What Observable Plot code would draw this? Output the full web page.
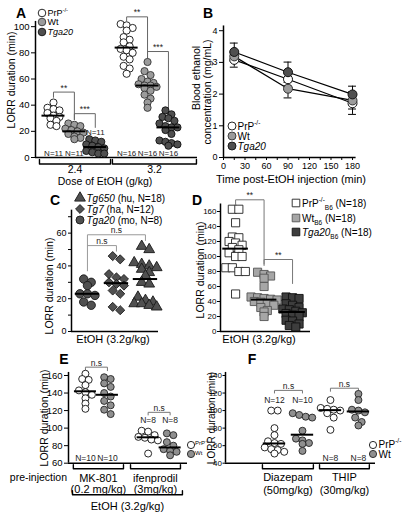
<!DOCTYPE html>
<html><head><meta charset="utf-8">
<script src="https://cdn.jsdelivr.net/npm/d3@7"></script>
<script src="https://cdn.jsdelivr.net/npm/@observablehq/plot@0.6"></script>
<style>
body{margin:0;background:#fff;}
#fig{position:relative;width:404px;height:514px;overflow:hidden;background:#fff;font-family:"Liberation Sans",Arial,Helvetica,sans-serif;color:#000;}
.t{position:absolute;white-space:nowrap;line-height:0.9;}
.t sup,.t sub{font-size:65%;line-height:0;}
.n{font-family:"Liberation Sans Narrow","Arial Narrow","Liberation Sans",Arial,sans-serif;}
</style></head><body><div id="fig"></div>
<script>
// ================= DATA =================
// A: LORR duration (min) by EtOH dose (g/kg) and genotype
const doseA = ["2.4", "3.2"];
const genotypesA = ["PrP-/-", "Wt", "Tga20"];
const lorrA_24_PrP = [42, 38, 37, 36, 34, 32, 31, 30, 28, 25, 24];
const lorrA_24_Wt = [26, 25, 24, 22, 21, 20, 19, 18, 16, 15, 14];
const lorrA_24_Tga20 = [14, 13, 12, 10, 9, 8, 7, 5, 4, 3, 3];
const lorrA_32_PrP = [102, 101, 99, 97, 92, 90, 88, 85, 83, 82, 80, 77, 75, 70, 68, 64];
const lorrA_32_Wt = [73, 66, 63, 60, 58, 57, 56, 55, 55, 54, 53, 51, 48, 45, 42, 38];
const lorrA_32_Tga20 = [36, 33, 31, 30, 28, 26, 24, 23, 23, 21, 18, 13, 12, 11, 10, 9];
const sigA = [
  {from: 0, to: 1, top: 50, left: 46, right: 29, label: "**"},
  {from: 1, to: 2, top: 33.5, left: 29, right: 23, label: "***"},
  {from: 3, to: 4, top: 107.5, left: 104.5, right: 76, label: "**"},
  {from: 4, to: 5, top: 81, left: 76, right: 34, label: "***"}
];
const nLabelYA = [null, null, 19.5, null, null, null];
const yTicksA = [0, 20, 40, 60, 80, 100];

// B: blood ethanol concentration (mg/mL) vs time post-injection (min)
const timeB = [15, 90, 180];
const bacB_PrP = [3.08, 2.47, 1.71];
const semB_PrP = [0.23, 0.2, 0.35];
const bacB_Wt = [3.19, 2.17, 1.80];
const semB_Wt = [0.15, 0.29, 0.27];
const bacB_Tga20 = [3.33, 2.69, 1.99];
const semB_Tga20 = [0.28, 0.32, 0.26];
const xTicksB = [0, 30, 60, 90, 120, 150, 180];
const yTicksB = [0, 1, 2, 3, 4];

// C: LORR duration (min), EtOH 3.2 g/kg, transgenic lines
const linesC = ["Tga20", "Tg7", "Tg650"];
const lorrC_Tga20 = [32, 30, 28, 23, 23, 22, 18, 16];
const lorrC_Tg7 = [46, 44, 35, 33, 32, 30, 29, 28, 25, 23, 15, 13];
const lorrC_Tg650 = [52, 50, 42, 41, 40, 39, 38, 36, 34, 30, 29, 21, 19, 18, 17, 17, 16, 15];
const sigC = [
  {from: 0, to: 2, top: 59, left: 37, right: 55.5, label: "n.s"},
  {from: 0, to: 1, top: 52.4, left: 52.4, right: 49, label: "n.s"}
];
const yTicksC = [0, 10, 20, 30, 40, 50, 60, 70];

// D: LORR duration (min), EtOH 3.2 g/kg, B6 background
const lorrD_PrP = [163, 163, 145, 126, 125, 120, 118, 115, 112, 109, 105, 100, 100, 85, 85, 80, 80, 50];
const lorrD_Wt = [79, 76, 74, 71, 60, 46, 45, 44, 43, 42, 40, 39, 37, 35, 32, 28, 26, 20];
const lorrD_Tga20 = [46, 45, 44, 37, 35, 32, 30, 29, 27, 25, 24, 22, 20, 15, 14, 10, 8, 6];
const sigD = [
  {from: 0, to: 1, top: 175.6, left: 170, right: 90, label: "**"},
  {from: 1, to: 2, top: 96, left: 88, right: 64, label: "**"}
];
const yTicksD = [0, 20, 40, 60, 80, 100, 120, 140, 160];

// E: NMDA-receptor antagonist pre-injection
const drugE = ["MK-801", "ifenprodil"];
const doseE = ["(0.2 mg/kg)", "(3mg/kg)"];
const lorrE_MK_PrP = [162, 156, 155, 149, 143, 141, 138, 134, 128, 122];
const lorrE_MK_Wt = [158, 156, 151, 147, 140, 136, 131, 126, 121, 116];
const lorrE_Ifen_PrP = [97, 96, 92, 90, 89, 87, 86, 71];
const lorrE_Ifen_Wt = [94, 92, 84, 80, 76, 74, 73, 69];
const sigE = [
  {from: 0, to: 1, top: 169.5, left: 165.5, right: 165.5, label: "n.s"},
  {from: 2, to: 3, top: 118, left: 115, right: 115, label: "n.s"}
];
const nLabelYE = [null, null, 108.7, 108.7];
const yTicksE = [60, 80, 100, 120, 140, 160];

// F: GABA-A modulators
const drugF = ["Diazepam", "THIP"];
const doseF = ["(50mg/kg)", "(30mg/kg)"];
const lorrF_Dia_PrP = [100, 100, 80, 72, 65, 63, 62, 58, 56, 55, 53, 51];
const lorrF_Dia_Wt = [97, 95, 93, 92, 77, 68, 66, 63, 62, 54];
const lorrF_THIP_PrP = [112, 103, 102, 101, 100, 97, 92, 78];
const lorrF_THIP_Wt = [119, 112, 101, 100, 98, 92, 87, 83];
const sigF = [
  {from: 0, to: 1, top: 123, left: 120, right: 120, label: "n.s"},
  {from: 2, to: 3, top: 125.5, left: 122, right: 122, label: "n.s"}
];
const nLabelYF = [111.5, 111.5, null, null];
const yTicksF = [40, 60, 80, 100, 120, 140];

// ================= HELPERS =================
const fig = document.getElementById("fig");
const FONT = '"Liberation Sans", Arial, Helvetica, sans-serif';
const FONTN = '"Liberation Sans Narrow", "Arial Narrow", "Liberation Sans", Arial, sans-serif';
const svgNS = "http://www.w3.org/2000/svg";

function txt(html, x, y, o = {}) {
  const d = document.createElement("div");
  d.className = "t" + (o.narrow ? " n" : "");
  d.innerHTML = html;
  d.style.left = x + "px";
  d.style.top = y + "px";
  d.style.fontSize = (o.size || 10.5) + "px";
  if (o.bold) d.style.fontWeight = "bold";
  const tx = o.anchor === "start" ? "0" : o.anchor === "end" ? "-100%" : "-50%";
  d.style.transform = `translate(${tx},-50%)` + (o.rotate ? " rotate(-90deg)" : "");
  fig.appendChild(d);
}
const symTypes = {circle: d3.symbolCircle, triangle: d3.symbolTriangle, diamond2: d3.symbolDiamond2, square: d3.symbolSquare};
function sym(x, y, type, r, fill, stroke) {
  const s = document.createElementNS(svgNS, "svg");
  s.setAttribute("width", 16); s.setAttribute("height", 16);
  s.style.position = "absolute"; s.style.left = (x - 8) + "px"; s.style.top = (y - 8) + "px";
  const p = document.createElementNS(svgNS, "path");
  p.setAttribute("d", d3.symbol(symTypes[type], Math.PI * r * r)());
  p.setAttribute("transform", "translate(8,8)");
  p.setAttribute("fill", fill); p.setAttribute("stroke", stroke); p.setAttribute("stroke-width", 0.9);
  s.appendChild(p);
  fig.appendChild(s);
}
function plotAt(left, top, opts, font, size) {
  const svg = Plot.plot({...opts, style: {background: "transparent", overflow: "visible", fontFamily: font || FONT, fontSize: (size || 9.5) + "px", color: "#000"}});
  svg.style.position = "absolute";
  svg.style.left = left + "px";
  svg.style.top = top + "px";
  fig.appendChild(svg);
  return svg;
}
function geom(g) {
  g.kx = (g.width - g.ml - g.mr) / (g.xd[1] - g.xd[0]);
  g.ky = (g.height - g.mt - g.mb) / (g.yd[1] - g.yd[0]);
  return g;
}
// scatter-column layout: points of similar value share a row, centred on the column
function rowOffsets(values, ky, rowH, spacing, maxPer) {
  const idx = values.map((v, i) => i).sort((a, b) => values[b] - values[a]);
  const out = [];
  let row = [];
  const flush = () => { row.forEach((i, k) => out[i] = (k - (row.length - 1) / 2) * spacing); row = []; };
  for (const i of idx) {
    if (row.length && ((values[row[0]] - values[i]) * ky > rowH || row.length >= maxPer)) flush();
    row.push(i);
  }
  flush();
  return out;
}
function catPanel(g, groups, o) {
  const y0 = g.yd[0];
  const marks = [];
  const sp = [];
  (o.spans || []).forEach((s, i) => {
    const a = y0 - s.off1 / g.ky, b = y0 - s.off2 / g.ky;
    sp.push({id: i, x: s.x1, y: a}, {id: i, x: s.x1, y: b}, {id: i, x: s.x2, y: b}, {id: i, x: s.x2, y: a});
  });
  marks.push(Plot.line(sp, {x: "x", y: "y", z: "id", stroke: "#000", strokeWidth: 1.4}));
  (o.spanText || []).forEach(t => {
    marks.push(Plot.text([t], {x: d => d.x, y: () => y0, text: d => d.text, dy: t.dy, fontSize: t.size, lineAnchor: "middle", fontFamily: t.font || FONT}));
  });
  marks.push(Plot.ruleY([y0], {stroke: "#000", strokeWidth: 1.5}));
  marks.push(Plot.ruleX([g.xd[0]], {y1: () => y0, y2: () => o.yTop, stroke: "#000", strokeWidth: 1.5}));
  const bp = [];
  o.sig.forEach((b, i) => {
    const xa = groups[b.from].pos, xb = groups[b.to].pos;
    bp.push({id: i, x: xa, y: b.left}, {id: i, x: xa, y: b.top}, {id: i, x: xb, y: b.top}, {id: i, x: xb, y: b.right});
  });
  marks.push(Plot.line(bp, {x: "x", y: "y", z: "id", stroke: o.sigColor, strokeWidth: 1}));
  marks.push(Plot.text(o.sig, {x: b => (groups[b.from].pos + groups[b.to].pos) / 2, y: "top", text: "label", dy: -1.5, lineAnchor: "bottom", fontSize: 8.5, fill: "#222", fontFamily: FONTN}));
  groups.forEach(gr => {
    const off = rowOffsets(gr.values, g.ky, o.rowH, o.spacing, o.maxPer);
    const pts = gr.values.map((v, i) => ({x: gr.pos + off[i] / g.kx, y: v}));
    marks.push(Plot.dot(pts, {x: "x", y: "y", r: gr.r, symbol: gr.symbol || "circle", fill: gr.fill, stroke: gr.stroke, strokeWidth: 0.9}));
  });
  marks.push(Plot.ruleY(groups, {x1: d => d.pos - o.medHalf, x2: d => d.pos + o.medHalf, y: d => d3.median(d.values), stroke: "#000", strokeWidth: 2}));
  if (o.nLabels) {
    const nb = groups.filter(gr => gr.nY == null), na = groups.filter(gr => gr.nY != null);
    marks.push(Plot.text(nb, {x: "pos", y: () => y0, text: d => "N=" + d.values.length, dy: -2, lineAnchor: "bottom", fontSize: o.nSize || 8.5, fill: "#222", fontFamily: FONTN}));
    marks.push(Plot.text(na, {x: "pos", y: "nY", text: d => "N=" + d.values.length, lineAnchor: "middle", fontSize: o.nSize || 8.5, fill: "#222", fontFamily: FONTN}));
  }
  plotAt(g.left, g.top, {
    width: g.width, height: g.height,
    marginLeft: g.ml, marginRight: g.mr, marginTop: g.mt, marginBottom: g.mb,
    x: {domain: g.xd, axis: null},
    y: {domain: g.yd, ticks: o.yTicks, tickFormat: o.yFmt || (d => d), tickSize: o.tickSize || 4, tickPadding: o.tickPad ?? 2, label: null},
    marks
  }, o.font || FONTN, o.fontSize || 9.5);
}

const stPrP = {fill: "#ffffff", stroke: "#111"};
const stWt = {fill: "#9b9b9b", stroke: "#333"};
const stTga = {fill: "#4f4f4f", stroke: "#111"};

// ================= PANEL A =================
const gA = geom({left: 0, top: 0, width: 200, height: 192, ml: 35, mr: 3, mt: 0, mb: 35, xd: [-0.86, 6.89], yd: [0, 120]});
const valuesA = [[lorrA_24_PrP, lorrA_24_Wt, lorrA_24_Tga20], [lorrA_32_PrP, lorrA_32_Wt, lorrA_32_Tga20]];
const stylesA = [stPrP, stWt, stTga];
const groupsA = doseA.flatMap((dose, di) => genotypesA.map((gt, gi) => ({
  pos: di * 3.5 + gi, values: valuesA[di][gi], r: 3.6, ...stylesA[gi], nY: nLabelYA[di * 3 + gi]
})));
catPanel(gA, groupsA, {
  sig: sigA, sigColor: "#666", rowH: 5, spacing: 6, maxPer: 4, medHalf: 0.55, yTop: 104, yTicks: yTicksA, nLabels: true, nSize: 8,
  spans: [{x1: -0.67, x2: 2.73, off1: 2, off2: 6.5}, {x1: 2.82, x2: 6.84, off1: 2, off2: 6.5}],
  spanText: [{x: 1.03, text: doseA[0], dy: 12, size: 10.5}, {x: 4.83, text: doseA[1], dy: 12, size: 10.5}]
});
txt("A", 21, 13, {bold: true, size: 14});
sym(42, 12.5, "circle", 3.8, stPrP.fill, stPrP.stroke);
sym(42, 22, "circle", 3.8, stWt.fill, stWt.stroke);
sym(42, 31.5, "circle", 3.8, stTga.fill, stTga.stroke);
txt("PrP<sup>-/-</sup>", 47.5, 12.5, {anchor: "start", size: 9});
txt("Wt", 47.5, 22, {anchor: "start", size: 9});
txt("<i>Tga20</i>", 47.5, 31.5, {anchor: "start", size: 9});
txt("LORR duration (min)", 12, 80, {rotate: true, size: 10.5});
txt("Dose of EtOH (g/kg)", 105, 181.5, {size: 10.5, narrow: true});

// ================= PANEL B =================
const gB = geom({left: 200, top: 0, width: 204, height: 192, ml: 23, mr: 48.4, mt: 0, mb: 35, xd: [0, 185], yd: [0, 4.953]});
const seriesB = [
  {vals: bacB_PrP, err: semB_PrP, ...stPrP},
  {vals: bacB_Wt, err: semB_Wt, ...stWt},
  {vals: bacB_Tga20, err: semB_Tga20, ...stTga}
].map(s => ({...s, pts: timeB.map((t, i) => ({t, v: s.vals[i], e: s.err[i]}))}));
const marksB = [
  Plot.ruleY([0], {stroke: "#000", strokeWidth: 1.5}),
  Plot.ruleX([0], {y1: () => 0, y2: () => 4.15, stroke: "#000", strokeWidth: 1.5}),
  ...seriesB.map(s => Plot.line(s.pts, {x: "t", y: "v", stroke: "#000", strokeWidth: 1.2})),
  ...seriesB.map(s => Plot.ruleX(s.pts, {x: "t", y1: d => d.v - d.e, y2: d => d.v + d.e, stroke: "#000", strokeWidth: 1})),
  ...seriesB.map(s => Plot.ruleY(s.pts, {x1: d => d.t - 5.5, x2: d => d.t + 5.5, y: d => d.v + d.e, stroke: "#000", strokeWidth: 1})),
  ...seriesB.map(s => Plot.ruleY(s.pts, {x1: d => d.t - 5.5, x2: d => d.t + 5.5, y: d => d.v - d.e, stroke: "#000", strokeWidth: 1})),
  ...seriesB.map(s => Plot.dot(s.pts, {x: "t", y: "v", r: 4.5, fill: s.fill, stroke: s.stroke, strokeWidth: 1}))
];
plotAt(gB.left, gB.top, {
  width: gB.width, height: gB.height, marginLeft: gB.ml, marginRight: gB.mr, marginTop: gB.mt, marginBottom: gB.mb,
  x: {domain: gB.xd, ticks: d3.range(0, 181, 15), tickFormat: d => xTicksB.includes(d) ? d : "", tickSize: 3, tickPadding: 2, label: null},
  y: {domain: gB.yd, ticks: yTicksB, tickFormat: d => d, tickSize: 4, tickPadding: 2, label: null},
  marks: marksB
}, FONT, 9);
txt("B", 208, 13, {bold: true, size: 14});
txt("Blood ethanol", 197, 78, {rotate: true, size: 10.5});
txt("concentration (mg/mL)", 207.5, 92, {rotate: true, size: 10.5});
sym(232, 126, "circle", 4, stPrP.fill, stPrP.stroke);
sym(232, 136, "circle", 4, stWt.fill, stWt.stroke);
sym(232, 146, "circle", 4, stTga.fill, stTga.stroke);
txt("PrP<sup>-/-</sup>", 237.5, 126, {anchor: "start", size: 10});
txt("Wt", 237.5, 136, {anchor: "start", size: 10});
txt("<i>Tga20</i>", 237.5, 146, {anchor: "start", size: 10});
txt("Time post-EtOH injection (min)", 291, 180, {size: 11});

// ================= PANEL C =================
const gC = geom({left: 0, top: 190, width: 200, height: 160, ml: 71, mr: 42, mt: 0, mb: 19, xd: [-0.55, 2.45], yd: [0, 86]});
const stC = {fill: "#505050", stroke: "#1a1a1a"};
const valuesC = [lorrC_Tga20, lorrC_Tg7, lorrC_Tg650];
const symbolsC = ["circle", "diamond2", "triangle"];
const radiiC = [4.2, 4.1, 4.0];
const groupsC = linesC.map((l, i) => ({pos: i, values: valuesC[i], symbol: symbolsC[i], r: radiiC[i], ...stC}));
catPanel(gC, groupsC, {
  sig: sigC, sigColor: "#999", rowH: 6, spacing: 7.5, maxPer: 4, medHalf: 0.42, yTop: 74, yTicks: yTicksC, yFmt: d => d % 20 ? "" : d, nLabels: false,
  tickSize: 3, fontSize: 9
});
txt("C", 55, 200, {bold: true, size: 14});
sym(80, 198, "triangle", 4, stC.fill, stC.stroke);
sym(80, 209, "diamond2", 4, stC.fill, stC.stroke);
sym(80, 220, "circle", 4, stC.fill, stC.stroke);
txt("<i>Tg650</i> (hu, N=" + lorrC_Tg650.length + ")", 86.5, 198, {anchor: "start", size: 10, narrow: true});
txt("<i>Tg7</i> (ha, N=" + lorrC_Tg7.length + ")", 86.5, 209, {anchor: "start", size: 10, narrow: true});
txt("<i>Tga20</i> (mo, N=" + lorrC_Tga20.length + ")", 86.5, 220, {anchor: "start", size: 10, narrow: true});
txt("LORR duration (min)", 50, 286, {rotate: true, size: 10.5, narrow: true});
txt("EtOH (3.2g/kg)", 113, 340, {size: 11, narrow: true});

// ================= PANEL D =================
const gD = geom({left: 200, top: 190, width: 204, height: 160, ml: 20, mr: 94, mt: 0, mb: 19, xd: [-0.53, 2.63], yd: [0, 188]});
const stDP = {fill: "#ffffff", stroke: "#222"}, stDW = {fill: "#a6a6a6", stroke: "#555"}, stDT = {fill: "#3d3d3d", stroke: "#111"};
const groupsD = [
  {pos: 0, values: lorrD_PrP, symbol: "square", r: 4.6, ...stDP},
  {pos: 1, values: lorrD_Wt, symbol: "square", r: 4.6, ...stDW},
  {pos: 2, values: lorrD_Tga20, symbol: "square", r: 4.6, ...stDT}
];
catPanel(gD, groupsD, {
  sig: sigD, sigColor: "#777", rowH: 4, spacing: 6.5, maxPer: 5, medHalf: 0.45, yTop: 170, yTicks: yTicksD, nLabels: false,
  tickSize: 3, tickPad: 1, fontSize: 8
});
txt("D", 197, 200, {bold: true, size: 14});
sym(296, 203, "square", 4.3, stDP.fill, stDP.stroke);
sym(296, 218, "square", 4.3, stDW.fill, stDW.stroke);
sym(296, 232, "square", 4.3, stDT.fill, stDT.stroke);
txt("PrP<sup>-/-</sup><sub>B6</sub> (N=" + lorrD_PrP.length + ")", 302, 203, {anchor: "start", size: 10, narrow: true});
txt("Wt<sub>B6</sub> (N=" + lorrD_Wt.length + ")", 302, 218, {anchor: "start", size: 10, narrow: true});
txt("<i>Tga20</i><sub>B6</sub> (N=" + lorrD_Tga20.length + ")", 302, 232, {anchor: "start", size: 10, narrow: true});
txt("LORR duration (min)", 201, 270, {rotate: true, size: 10.5, narrow: true});
txt("EtOH (3.2g/kg)", 259, 340, {size: 11, narrow: true});

// ================= PANEL E =================
const gE = geom({left: 0, top: 355, width: 200, height: 159, ml: 68, mr: 13, mt: 0, mb: 51.3, xd: [-0.77, 4.64], yd: [60, 182.8]});
const stEW = {fill: "#8f8f8f", stroke: "#222"};
const valuesE = [[lorrE_MK_PrP, lorrE_MK_Wt], [lorrE_Ifen_PrP, lorrE_Ifen_Wt]];
const groupsE = drugE.flatMap((dr, di) => [stPrP, stEW].map((st, gi) => ({
  pos: di * 2.85 + gi, values: valuesE[di][gi], r: 3.5, ...st, nY: nLabelYE[di * 2 + gi]
})));
catPanel(gE, groupsE, {
  sig: sigE, sigColor: "#777", rowH: 5, spacing: 6.5, maxPer: 4, medHalf: 0.5, yTop: 163.5, yTicks: yTicksE, nLabels: true,
  spans: [{x1: -0.55, x2: 1.73, off1: 1.5, off2: 5.5}, {x1: 2.05, x2: 4.32, off1: 1.5, off2: 5.5}, {x1: -0.59, x2: 4.41, off1: 27.5, off2: 31.5}],
  spanText: [
    {x: 0.59, text: drugE[0], dy: 15, size: 11, font: FONTN}, {x: 0.59, text: doseE[0], dy: 26, size: 11, font: FONTN},
    {x: 3.18, text: drugE[1], dy: 15, size: 11, font: FONTN}, {x: 3.18, text: doseE[1], dy: 26, size: 11, font: FONTN},
    {x: 1.91, text: "EtOH (3.2g/kg)", dy: 43.5, size: 11, font: FONTN}
  ]
});
txt("E", 64, 359, {bold: true, size: 14});
txt("LORR duration (min)", 45, 418, {rotate: true, size: 10.5, narrow: true});
txt("pre-injection", 67, 478, {anchor: "end", size: 10.5});
sym(191, 445, "circle", 3.6, stPrP.fill, stPrP.stroke);
sym(191, 454, "circle", 3.6, stEW.fill, stEW.stroke);
txt("PrP<sup>-/-</sup>", 195, 444, {anchor: "start", size: 6, narrow: true});
txt("Wt", 195, 454, {anchor: "start", size: 6, narrow: true});

// ================= PANEL F =================
const gF = geom({left: 200, top: 355, width: 204, height: 159, ml: 25, mr: 29, mt: 0, mb: 51.3, xd: [-1.75, 3.61], yd: [40, 162.8]});
const valuesF = [[lorrF_Dia_PrP, lorrF_Dia_Wt], [lorrF_THIP_PrP, lorrF_THIP_Wt]];
const groupsF = drugF.flatMap((dr, di) => [stPrP, stEW].map((st, gi) => ({
  pos: di * 2 + gi, values: valuesF[di][gi], r: 3.5, ...st, nY: nLabelYF[di * 2 + gi]
})));
catPanel(gF, groupsF, {
  sig: sigF, sigColor: "#777", rowH: 5, spacing: 6.5, maxPer: 4, medHalf: 0.4, yTop: 143.5, yTicks: yTicksF, nLabels: true,
  tickSize: 2.5, tickPad: 1, fontSize: 8,
  spans: [{x1: -0.43, x2: 1.39, off1: 1.5, off2: 5.5}, {x1: 1.61, x2: 3.39, off1: 1.5, off2: 5.5}],
  spanText: [
    {x: 0.48, text: drugF[0], dy: 14, size: 11}, {x: 0.48, text: doseF[0], dy: 27, size: 11},
    {x: 2.5, text: drugF[1], dy: 14, size: 11}, {x: 2.5, text: doseF[1], dy: 27, size: 11}
  ]
});
txt("F", 252, 359, {bold: true, size: 14});
txt("LORR duration (min)", 210.5, 418, {rotate: true, size: 10, narrow: true});
sym(373, 445, "circle", 3.6, stPrP.fill, stPrP.stroke);
sym(373, 454, "circle", 3.6, stEW.fill, stEW.stroke);
txt("PrP<sup>-/-</sup>", 378.5, 444, {anchor: "start", size: 10});
txt("Wt", 378.5, 454, {anchor: "start", size: 10});
</script></body></html>
